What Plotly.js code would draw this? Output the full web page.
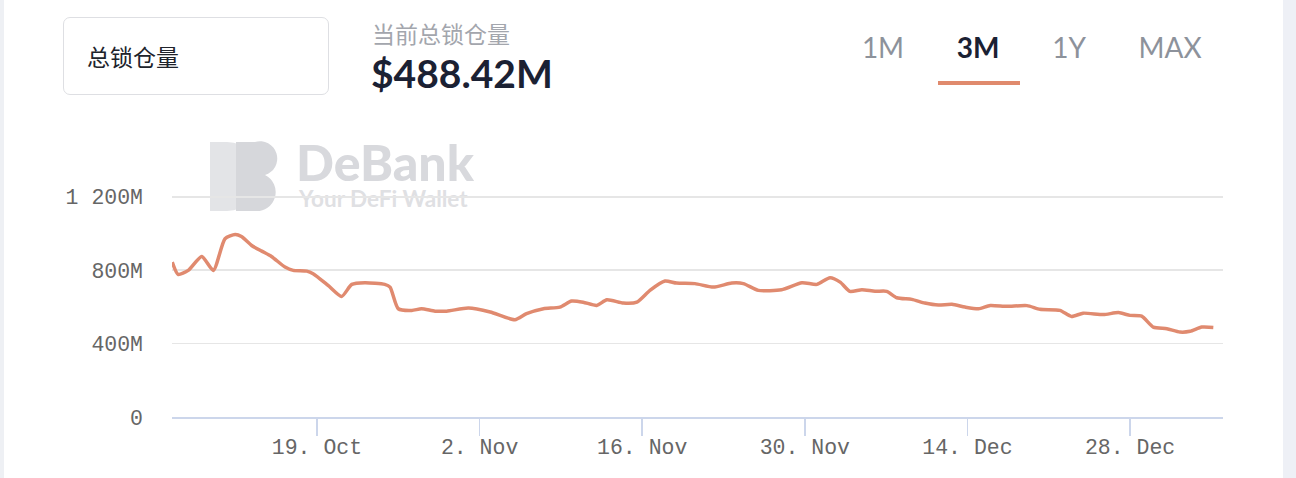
<!DOCTYPE html>
<html>
<head>
<meta charset="utf-8">
<script src="https://cdn.plot.ly/plotly-3.0.1.min.js"></script>
<style>
  html, body { margin:0; padding:0; background:#fff; }
  #wrap { position:relative; width:1296px; height:478px; overflow:hidden; background:#fff; }
  #chart { position:absolute; left:0; top:0; width:1296px; height:478px; }
  .abs { position:absolute; white-space:nowrap; }
  #leftedge { position:absolute; left:0; top:0; width:4px; height:478px; background:#eef0f4; }
  #rightstrip { position:absolute; left:1283px; top:0; width:13px; height:478px; background:#eef0f6; }
  #box { position:absolute; left:63px; top:17px; width:264px; height:76px; border:1.5px solid #dedfe3; border-radius:7px; background:#fff; }
  #boxtxt { left:87px; top:40px; font-family:"Noto Sans CJK SC"; font-size:23px; color:#20232b; line-height:32px; }
  #cur { left:372px; top:17px; font-family:"Noto Sans CJK SC"; font-size:23px; color:#a3a6ad; line-height:32px; }
  #val { left:371px; top:50px; font-family:Lato; font-weight:700; font-size:39px; color:#1b2133; line-height:46px; }
  .tab { top:30px; font-family:Lato; font-size:28px; color:#8d929b; line-height:34px; transform:translateX(-50%); }
  #t3 { font-weight:700; color:#1b2133; }
  #ul { position:absolute; left:938px; top:81px; width:82px; height:4px; background:#e08a6d; }
  #wm { position:absolute; left:205px; top:138px; width:80px; height:80px; }
  #wmt1 { left:296px; top:139px; font-family:Lato; font-weight:900; font-size:50px; color:#d8d9dd; line-height:46px; }
  #wmt2 { left:299px; top:187px; font-family:Lato; font-weight:700; font-size:22.5px; color:#dfe0e3; line-height:24px; }
</style>
</head>
<body>
<div id="wrap">
  <div id="leftedge"></div>
  <div id="rightstrip"></div>
  <svg id="wm" viewBox="0 0 80 80">
    <path d="M5,4 H22 A34.5,34.5 0 0 1 22,73 H5 Z" fill="#e3e4e7"/>
    <path d="M31,4 H50 A17,17 0 0 1 60,37 A19,19 0 0 1 50,73 H31 Z" fill="#d6d7db"/>
  </svg>
  <div class="abs" id="wmt1">DeBank</div>
  <div class="abs" id="wmt2">Your DeFi Wallet</div>
  <div id="chart"></div>
  <div id="box"></div>
  <div class="abs" id="boxtxt">总锁仓量</div>
  <div class="abs" id="cur">当前总锁仓量</div>
  <div class="abs" id="val">$488.42M</div>
  <div class="abs tab" style="left:883px">1M</div>
  <div class="abs tab" id="t3" style="left:978px">3M</div>
  <div class="abs tab" style="left:1069px">1Y</div>
  <div class="abs tab" style="left:1170px">MAX</div>
  <div id="ul"></div>
</div>
<script>
const dates = [
  "2020-10-06 13:00","2020-10-07 01:00","2020-10-07 22:00","2020-10-09 02:00","2020-10-10 02:00",
  "2020-10-11 02:00","2020-10-11 23:00","2020-10-12 12:00","2020-10-13 09:00","2020-10-14 06:00",
  "2020-10-15 02:00","2020-10-16 06:00","2020-10-16 23:00","2020-10-18 03:00","2020-10-18 16:00",
  "2020-10-19 23:00","2020-10-21 03:00","2020-10-22 00:00","2020-10-23 03:00","2020-10-24 20:00",
  "2020-10-25 07:00","2020-10-26 00:00","2020-10-27 04:00","2020-10-28 00:00","2020-10-29 04:00",
  "2020-10-30 04:00","2020-11-01 01:00","2020-11-02 22:00","2020-11-05 01:00","2020-11-06 01:00",
  "2020-11-07 12:00","2020-11-08 22:00","2020-11-09 22:00","2020-11-10 22:00","2020-11-12 02:00",
  "2020-11-12 23:00","2020-11-14 09:00","2020-11-15 13:00","2020-11-16 16:00","2020-11-17 23:00",
  "2020-11-18 23:00","2020-11-20 13:00","2020-11-22 03:00","2020-11-23 17:00","2020-11-24 17:00",
  "2020-11-26 00:00","2020-11-28 00:00","2020-11-29 18:00","2020-12-01 01:00","2020-12-02 04:00",
  "2020-12-03 01:00","2020-12-03 21:00","2020-12-04 22:00","2020-12-06 01:00","2020-12-07 01:00",
  "2020-12-07 22:00","2020-12-09 05:00","2020-12-10 08:00","2020-12-11 12:00","2020-12-12 16:00",
  "2020-12-13 19:00","2020-12-14 23:00","2020-12-15 23:00","2020-12-17 09:00","2020-12-19 03:00",
  "2020-12-20 06:00","2020-12-21 23:00","2020-12-22 23:00","2020-12-23 23:00","2020-12-25 17:00",
  "2020-12-27 00:00","2020-12-28 00:00","2020-12-29 00:00","2020-12-30 00:00","2020-12-31 04:00",
  "2021-01-01 07:00","2021-01-02 04:00","2021-01-03 04:00","2021-01-04 04:00"
];
const tvlM = [
  844,777,799,875,799,
  972,995,984,935,904,
  875,817,799,795,781,
  717,657,723,732,723,
  708,590,581,590,577,
  577,594,572,530,563,
  590,599,632,626,608,
  639,621,626,690,741,
  730,727,708,730,727,
  690,694,732,723,759,
  735,685,694,685,685,
  650,641,621,610,614,
  599,590,608,603,607,
  587,581,548,566,558,
  569,554,550,490,481,
  463,467,490,488.42
];
const xTickVals = ["2020-10-19","2020-11-02","2020-11-16","2020-11-30","2020-12-14","2020-12-28"];
const xTickText = ["19. Oct","2. Nov","16. Nov","30. Nov","14. Dec","28. Dec"];
const yTickVals = [0,400,800,1200];
const yTickText = ["0","400M","800M","1 200M"];

const tickFont = {family:"Liberation Mono, Courier New, monospace", size:21.5, color:"#666666"};

Plotly.newPlot("chart", [{
  type:"scatter", mode:"lines", x:dates, y:tvlM,
  line:{color:"#e08a6f", width:3.5, shape:"spline", smoothing:0.6},
  hoverinfo:"skip", showlegend:false
}], {
  width:1296, height:478,
  margin:{l:172, r:73, t:194.5, b:61.3, pad:0},
  paper_bgcolor:"rgba(0,0,0,0)", plot_bgcolor:"rgba(0,0,0,0)",
  xaxis:{type:"date", range:["2020-10-06 12:30","2021-01-05 00:00"],
    tickmode:"array", tickvals:xTickVals, ticktext:xTickText,
    ticks:"outside", ticklen:17, tickwidth:1.5, tickcolor:"#ccd6eb",
    showline:true, linecolor:"#ccd6eb", linewidth:2, ticklabelstandoff:-8,
    showgrid:false, zeroline:false, tickfont:tickFont, fixedrange:true},
  yaxis:{range:[0,1210], tickmode:"array", tickvals:yTickVals, ticktext:yTickText,
    showgrid:true, gridcolor:"#e6e6e6", gridwidth:1.6, zeroline:false, showline:false,
    ticks:"", ticklabelstandoff:28, tickfont:tickFont, fixedrange:true}
}, {displayModeBar:false, staticPlot:true});
</script>
</body>
</html>
